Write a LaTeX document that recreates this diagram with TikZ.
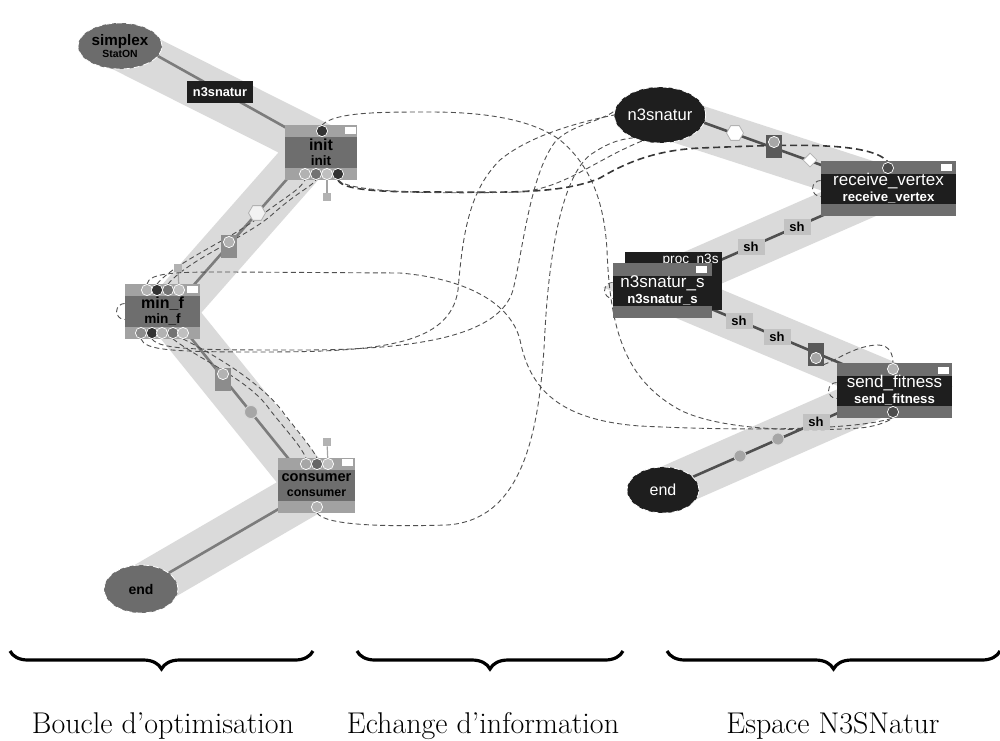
\documentclass[tikz,border=0pt]{standalone}
\usepackage{fontspec}
\newfontfamily\ui{Liberation Sans}
\usetikzlibrary{shapes.geometric,decorations.pathreplacing}
\pgfdeclarelayer{bandlayer}
\pgfdeclarelayer{wirelayer}
\pgfsetlayers{bandlayer,wirelayer,main}
\definecolor{bandc}{HTML}{DADADA}
\definecolor{lstrip}{HTML}{A2A2A2}
\definecolor{lmid}{HTML}{6E6E6E}
\definecolor{lell}{HTML}{6C6C6C}
\definecolor{rstrip}{HTML}{6E6E6E}
\definecolor{rblk}{HTML}{1E1E1E}
\definecolor{lline}{HTML}{7C7C7C}
\definecolor{rline}{HTML}{505050}
\definecolor{wirec}{HTML}{505050}
\definecolor{shc}{HTML}{C2C2C2}
\tikzset{
 band/.style={draw=bandc, line width=#1, line join=miter, miter limit=20},
 lpath/.style={draw=lline, line width=1.3pt},
 rpath/.style={draw=rline, line width=1.3pt},
 wire/.style={draw=wirec, line width=0.45pt, dash pattern=on 2.5pt off 1.6pt},
 wirebold/.style={draw=wirec!70!black, line width=0.8pt, dash pattern=on 3.5pt off 2pt},
 stem/.style={draw=lline!70!white, line width=0.6pt},
 lbox/.style={fill=lstrip, inner sep=0pt, minimum height=27.5pt, align=center,
   font=\ui\bfseries\fontsize{8}{8}\selectfont, text=black,
   path picture={\fill[lmid] ([yshift=7.75pt]path picture bounding box.west) rectangle ([yshift=-7.75pt]path picture bounding box.east);}},
 rbox/.style={fill=rstrip, inner sep=0pt, minimum height=27.5pt, align=center,
   font=\ui\fontsize{8.5}{8.5}\selectfont, text=white,
   path picture={\fill[rblk] ([yshift=7.5pt]path picture bounding box.west) rectangle ([yshift=-7.5pt]path picture bounding box.east);}},
 ell/.style={ellipse, inner sep=0pt, draw=white, densely dashed, line width=0.4pt, align=center},
 portc/.style={circle, inner sep=0pt, minimum size=5.6pt, draw=white, line width=0.35pt, fill=#1},
 wrect/.style={fill=white, inner sep=0pt, minimum width=5.5pt, minimum height=3.5pt},
 shlab/.style={fill=shc, inner sep=0pt, minimum width=13.5pt, minimum height=8pt, font=\ui\bfseries\fontsize{6.5}{6.5}\selectfont},
 blab/.style={fill=rblk, text=white, inner sep=0pt, minimum width=33pt, minimum height=11pt, font=\ui\bfseries\fontsize{6.4}{6.4}\selectfont},
 sqbox/.style={fill=#1, inner sep=0pt, minimum width=8pt, minimum height=11.5pt},
 tinysq/.style={fill=#1, inner sep=0pt, minimum size=4pt},
 hexa/.style={regular polygon, regular polygon sides=6, inner sep=0pt, minimum size=8.5pt, fill=#1, draw=gray!60, line width=0.4pt},
 diam/.style={diamond, inner sep=0pt, minimum size=7pt, fill=white, draw=gray!60, line width=0.4pt},
 legend/.style={font=\fontsize{15}{18}\selectfont, anchor=base, inner sep=0pt},
 bracec/.style={decorate, decoration={brace, mirror, amplitude=9pt}, line width=1.6pt}
}
\begin{document}
\begin{tikzpicture}[x=0.5pt,y=-0.5pt]
\useasboundingbox (0,0) rectangle (1000,740);

% ---------- bend points ----------
\coordinate (A) at (317,145);
\coordinate (B) at (170,312);
\coordinate (C) at (313,489);
\coordinate (D) at (885,188);
\coordinate (E) at (659,287);
\coordinate (F) at (897,387);

% ---------- left column ----------
\node[ell, fill=lell, minimum width=42pt, minimum height=23pt, font=\ui\bfseries\fontsize{7.6}{7.6}\selectfont] (simplex) at (120,46) {simplex\\[-1.5pt]{\fontsize{5.2}{5.2}\selectfont StatON}};
\node[ell, fill=lell, minimum width=37pt, minimum height=24pt, font=\ui\bfseries\fontsize{7}{7}\selectfont] (endL) at (141,589) {end};

\node[lbox, minimum width=36pt] (init) at (321,152.5) {init\\[-0.5pt]{\fontsize{6.8}{6.8}\selectfont init}};
\node[lbox, minimum width=37.5pt] (minf) at (162.5,311.5) {min\_f\\[-0.5pt]{\fontsize{6.8}{6.8}\selectfont min\_f}};
\node[lbox, minimum width=38.5pt] (cons) at (316.5,485.5) {{\fontsize{7.3}{7.3}\selectfont consumer}\\[-0.5pt]{\fontsize{6.2}{6.2}\selectfont consumer}};

\node[blab] (lab1) at (220,92) {n3snatur};

% ports left
\node[portc=black!80] (initT) at (322,131) {};
\node[wrect] (initW) at (350,130) {};
\node[portc=gray!60] (initB1) at (305,174) {};
\node[portc=gray!110] (initB2) at (316,174) {};
\node[portc=gray!50] (initB3) at (327,174) {};
\node[portc=black!80] (initB4) at (338,174) {};

\node[portc=gray!60] (mfT1) at (147,290) {};
\node[portc=black!80] (mfT2) at (157,290) {};
\node[portc=gray!110] (mfT3) at (168,290) {};
\node[portc=gray!50] (mfT4) at (179,290) {};
\node[wrect] (mfW) at (192,289) {};
\node[portc=gray!90] (mfB1) at (141,333) {};
\node[portc=black!80] (mfB2) at (152,333) {};
\node[portc=gray!60] (mfB3) at (162,333) {};
\node[portc=gray!110] (mfB4) at (173,333) {};
\node[portc=gray!50] (mfB5) at (183,333) {};

\node[portc=gray!70] (cT1) at (306,464) {};
\node[portc=gray!120] (cT2) at (317,464) {};
\node[portc=gray!50] (cT3) at (328,464) {};
\node[wrect] (cW) at (347,462) {};
\node[portc=gray!60] (cB) at (317,507) {};

\node[tinysq=gray!60] (sqi) at (327,197) {};
\node[tinysq=gray!60] (sqm) at (178,268) {};
\node[tinysq=gray!60] (sqc) at (327,442) {};

\node[hexa=gray!10] (hexL) at (257,213) {};
\node[sqbox=gray!90] (sqL1) at (229,246) {};
\node[portc=gray!60] (pL1) at (229,242) {};
\node[sqbox=gray!90] (sqL2) at (223,379) {};
\node[portc=gray!60] (pL2) at (223,374) {};
\node[circle, inner sep=0pt, minimum size=6.5pt, fill=gray!70, draw=gray!30, line width=0.4pt] (cirL) at (251,412) {};

% ---------- right column ----------
\node[ell, fill=rblk, minimum width=42pt, minimum height=28pt, text=white, font=\ui\fontsize{8.3}{8.3}\selectfont] (n3) at (660,115) {n3snatur};
\node[ell, fill=rblk, minimum width=36pt, minimum height=23pt, text=white, font=\ui\fontsize{8}{8}\selectfont] (endR) at (663,490) {end};

\node[rbox, minimum width=67.5pt] (rv) at (888.5,188.5) {receive\_vertex\\[-0.5pt]{\bfseries\fontsize{6.6}{6.6}\selectfont receive\_vertex}};
\node[fill=rblk, inner sep=0pt, minimum width=48.5pt, minimum height=29pt] (proc) at (673.5,281) {};
\node[anchor=north east, inner sep=0pt, text=white, font=\ui\fontsize{6.8}{6.8}\selectfont] (procT) at (719,254) {proc\_n3s};
\node[rbox, minimum width=49.5pt] (n3s) at (662.5,290.5) {n3snatur\_s\\[-0.5pt]{\bfseries\fontsize{6.6}{6.6}\selectfont n3snatur\_s}};
\node[rbox, minimum width=57.5pt] (sf) at (894.5,390.5) {send\_fitness\\[-0.5pt]{\bfseries\fontsize{6.6}{6.6}\selectfont send\_fitness}};

\node[wrect] (rvW) at (946,167) {};
\node[wrect] (n3sW) at (701,269) {};
\node[wrect] (sfW) at (943,370) {};
\node[portc=black!70] (rvT) at (888,168) {};
\node[portc=gray!60] (sfT) at (893,369) {};
\node[portc=black!70] (sfB) at (893,412) {};

\node[hexa=white] (hexR) at (735,133) {};
\node[sqbox=gray!130] (sqR1) at (774,146) {};
\node[portc=gray!70] (pR1) at (774,142) {};
\node[diam] (diaR) at (810,160) {};
\node[sqbox=gray!130] (sqR2) at (816,354) {};
\node[portc=gray!70] (pR2) at (816,358) {};
\node[circle, inner sep=0pt, minimum size=6pt, fill=gray!70, draw=gray!30, line width=0.4pt] (cirR1) at (778,439) {};
\node[circle, inner sep=0pt, minimum size=6pt, fill=gray!70, draw=gray!30, line width=0.4pt] (cirR2) at (740,456) {};

\node[shlab] (sh1) at (797,227) {sh};
\node[shlab] (sh2) at (751,247) {sh};
\node[shlab] (sh3) at (739,321) {sh};
\node[shlab] (sh4) at (777,337) {sh};
\node[shlab] (sh5) at (816,422) {sh};

% ---------- bands ----------
\begin{pgfonlayer}{bandlayer}
\draw[band=24pt] (simplex.center) -- (A) -- (B) -- (C) -- (endL.center);
\draw[band=22pt] (n3.center) -- (D) -- (E) -- (F) -- (endR.center);
\end{pgfonlayer}

% ---------- lines and wires ----------
\begin{pgfonlayer}{wirelayer}
\draw[lpath] (simplex.-15) -- (A) -- (B) -- (C) -- (endL);
\draw[rpath] (n3.-10) -- (D) -- (E) -- (F) -- (endR);
\draw[stem] (initB3) -- (sqi);
\draw[stem] (mfT4) -- (sqm);
\draw[stem] (cT3) -- (sqc);

% long exchanges
\draw[wire] (initT.north) .. controls (335,112) and (380,112) .. (430,112)
  .. controls (480,112) and (530,118) .. (560,140)
  .. controls (590,165) and (604,200) .. (607,250)
  .. controls (610,330) and (625,380) .. (680,410)
  .. controls (720,430) and (800,432) .. (860,428)
  .. controls (880,426) and (890,420) .. (sfB.south);
\draw[wirebold] (initB4.south) .. controls (342,190) and (380,192) .. (430,192)
  .. controls (500,192) and (560,195) .. (600,178)
  .. controls (630,160) and (660,150) .. (700,148)
  .. controls (780,145) and (870,140) .. (rvT.north);
\draw[wire] (initB4.south) .. controls (350,193) and (440,194) .. (520,192)
  .. controls (565,188) and (595,160) .. (n3.-125);
\draw[wire] (mfT1.north) .. controls (149,272) and (180,272) .. (230,272)
  -- (400,273)
  .. controls (460,278) and (510,300) .. (520,340)
  .. controls (530,390) and (560,420) .. (640,426)
  .. controls (720,430) and (850,432) .. (sfB.south);
\draw[wire] (mfB1.south) .. controls (145,350) and (170,352) .. (260,352)
  .. controls (380,352) and (450,345) .. (458,290)
  .. controls (463,230) and (470,190) .. (500,160)
  .. controls (530,135) and (580,122) .. (n3.west);
\draw[wire] (mfB2.south) .. controls (160,350) and (200,350) .. (300,350)
  .. controls (420,350) and (500,335) .. (513,290)
  .. controls (523,250) and (530,175) .. (555,142)
  .. controls (570,125) and (600,122) .. (n3.175);
\draw[wire] (cB.south) .. controls (325,525) and (380,527) .. (447,525)
  .. controls (520,520) and (540,440) .. (545,330)
  .. controls (550,240) and (565,175) .. (590,155)
  .. controls (605,145) and (615,140) .. (n3.-140);

% local links
\draw[wire] (mfT2.north) .. controls (175,262) and (230,240) .. (262,215)
  .. controls (285,197) and (300,190) .. (initB1.south);
\draw[wire] (mfT3.north) .. controls (190,258) and (250,236) .. (275,212)
  .. controls (298,192) and (312,186) .. (initB2.south);
\draw[wire] (mfB4.south) .. controls (200,360) and (250,380) .. (270,410)
  .. controls (290,435) and (300,445) .. (cT1.north);
\draw[wire] (mfB5.south) .. controls (215,355) and (265,385) .. (285,415)
  .. controls (305,440) and (313,450) .. (cT2.north);
\draw[wire] (pR2.south) .. controls (822,372) and (850,345) .. (878,345)
  .. controls (890,345) and (893,355) .. (sfT.north);
\draw[wire] ([yshift=4pt]minf.west) arc[start angle=90, end angle=270, radius=4pt];
\draw[wire] ([yshift=4pt]n3s.west) arc[start angle=90, end angle=270, radius=4pt];
\draw[wire] ([yshift=4pt]rv.west) arc[start angle=90, end angle=270, radius=4pt];
\draw[wire] ([yshift=4pt]sf.west) arc[start angle=90, end angle=270, radius=4pt];
\end{pgfonlayer}

% ---------- legend ----------
\coordinate (b1a) at (10,651);  \coordinate (b1b) at (313,651);
\coordinate (b2a) at (357,651); \coordinate (b2b) at (623,651);
\coordinate (b3a) at (667,651); \coordinate (b3b) at (1000,651);
\draw[bracec] (b1a) -- (b1b);
\draw[bracec] (b2a) -- (b2b);
\draw[bracec] (b3a) -- (b3b);
\node[legend] (t1) at (163,733) {Boucle d'optimisation};
\node[legend] (t2) at (483,733) {Echange d'information};
\node[legend] (t3) at (833,733) {Espace N3SNatur};
\end{tikzpicture}
\end{document}
